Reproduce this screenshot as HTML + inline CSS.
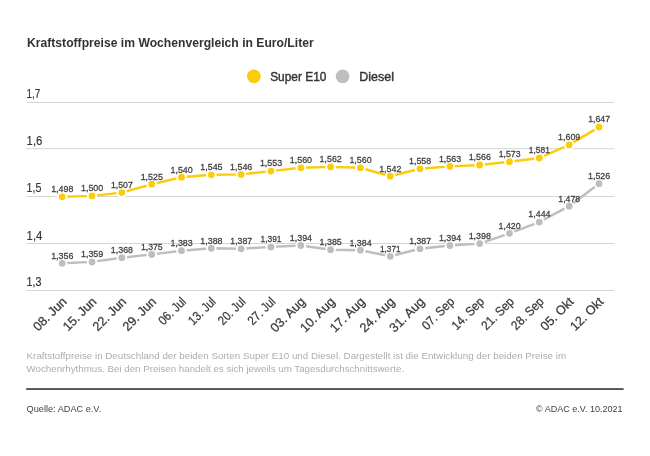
<!DOCTYPE html>
<html><head><meta charset="utf-8"><title>Kraftstoffpreise</title>
<style>html,body{margin:0;padding:0;background:#fff}body{width:650px;height:456px;overflow:hidden}svg{display:block;will-change:transform;transform:translateZ(0)}text{font-family:"Liberation Sans",sans-serif}</style></head><body>
<svg width="650" height="456" viewBox="0 0 650 456">
<rect width="650" height="456" fill="#fff"/>
<text x="27" y="47.2" font-size="12.2" font-weight="bold" fill="#333" textLength="286.7" lengthAdjust="spacingAndGlyphs">Kraftstoffpreise im Wochenvergleich in Euro/Liter</text>
<circle cx="253.9" cy="76.3" r="6.85" fill="#fccc0a"/>
<text x="270.2" y="81.3" font-size="12.6" fill="#333" stroke="#333" stroke-width="0.4" textLength="56.2" lengthAdjust="spacingAndGlyphs">Super E10</text>
<circle cx="342.6" cy="76.3" r="6.85" fill="#bebebe"/>
<text x="359.3" y="81.3" font-size="12.6" fill="#333" stroke="#333" stroke-width="0.4" textLength="34.7" lengthAdjust="spacingAndGlyphs">Diesel</text>
<line x1="26.5" x2="614.2" y1="102.5" y2="102.5" stroke="#d5d5d5" stroke-width="1"/>
<text x="26.6" y="98.1" font-size="12.3" fill="#333" stroke="#333" stroke-width="0.15" textLength="13.8" lengthAdjust="spacingAndGlyphs">1,7</text>
<line x1="26.5" x2="614.2" y1="148.7" y2="148.7" stroke="#d5d5d5" stroke-width="1"/>
<text x="26.6" y="144.8" font-size="12.3" fill="#333" stroke="#333" stroke-width="0.15" textLength="15.8" lengthAdjust="spacingAndGlyphs">1,6</text>
<line x1="26.5" x2="614.2" y1="196.5" y2="196.5" stroke="#d5d5d5" stroke-width="1"/>
<text x="26.6" y="192.1" font-size="12.3" fill="#333" stroke="#333" stroke-width="0.15" textLength="14.8" lengthAdjust="spacingAndGlyphs">1,5</text>
<line x1="26.5" x2="614.2" y1="243.5" y2="243.5" stroke="#d5d5d5" stroke-width="1"/>
<text x="26.6" y="239.6" font-size="12.3" fill="#333" stroke="#333" stroke-width="0.15" textLength="15.8" lengthAdjust="spacingAndGlyphs">1,4</text>
<line x1="26.5" x2="614.2" y1="290.5" y2="290.5" stroke="#d5d5d5" stroke-width="1"/>
<text x="26.6" y="286.1" font-size="12.3" fill="#333" stroke="#333" stroke-width="0.15" textLength="15.0" lengthAdjust="spacingAndGlyphs">1,3</text>
<polyline points="62.2,263.3 92.0,261.9 121.8,257.7 151.7,254.4 181.5,250.7 211.3,248.3 241.1,248.8 270.9,246.9 300.8,245.5 330.6,249.7 360.4,250.2 390.2,256.3 420.0,248.8 449.9,245.5 479.7,243.6 509.5,233.3 539.3,222.1 569.1,206.2 599.0,183.7" fill="none" stroke="#bebebe" stroke-width="2.45" stroke-linejoin="round" stroke-linecap="round"/>
<circle cx="62.2" cy="263.3" r="4.35" fill="#bebebe" stroke="#fff" stroke-width="1.9"/>
<circle cx="92.0" cy="261.9" r="4.35" fill="#bebebe" stroke="#fff" stroke-width="1.9"/>
<circle cx="121.8" cy="257.7" r="4.35" fill="#bebebe" stroke="#fff" stroke-width="1.9"/>
<circle cx="151.7" cy="254.4" r="4.35" fill="#bebebe" stroke="#fff" stroke-width="1.9"/>
<circle cx="181.5" cy="250.7" r="4.35" fill="#bebebe" stroke="#fff" stroke-width="1.9"/>
<circle cx="211.3" cy="248.3" r="4.35" fill="#bebebe" stroke="#fff" stroke-width="1.9"/>
<circle cx="241.1" cy="248.8" r="4.35" fill="#bebebe" stroke="#fff" stroke-width="1.9"/>
<circle cx="270.9" cy="246.9" r="4.35" fill="#bebebe" stroke="#fff" stroke-width="1.9"/>
<circle cx="300.8" cy="245.5" r="4.35" fill="#bebebe" stroke="#fff" stroke-width="1.9"/>
<circle cx="330.6" cy="249.7" r="4.35" fill="#bebebe" stroke="#fff" stroke-width="1.9"/>
<circle cx="360.4" cy="250.2" r="4.35" fill="#bebebe" stroke="#fff" stroke-width="1.9"/>
<circle cx="390.2" cy="256.3" r="4.35" fill="#bebebe" stroke="#fff" stroke-width="1.9"/>
<circle cx="420.0" cy="248.8" r="4.35" fill="#bebebe" stroke="#fff" stroke-width="1.9"/>
<circle cx="449.9" cy="245.5" r="4.35" fill="#bebebe" stroke="#fff" stroke-width="1.9"/>
<circle cx="479.7" cy="243.6" r="4.35" fill="#bebebe" stroke="#fff" stroke-width="1.9"/>
<circle cx="509.5" cy="233.3" r="4.35" fill="#bebebe" stroke="#fff" stroke-width="1.9"/>
<circle cx="539.3" cy="222.1" r="4.35" fill="#bebebe" stroke="#fff" stroke-width="1.9"/>
<circle cx="569.1" cy="206.2" r="4.35" fill="#bebebe" stroke="#fff" stroke-width="1.9"/>
<circle cx="599.0" cy="183.7" r="4.35" fill="#bebebe" stroke="#fff" stroke-width="1.9"/>
<polyline points="62.2,196.8 92.0,195.9 121.8,192.6 151.7,184.2 181.5,177.2 211.3,174.8 241.1,174.4 270.9,171.1 300.8,167.8 330.6,166.9 360.4,167.8 390.2,176.2 420.0,168.8 449.9,166.4 479.7,165.0 509.5,161.7 539.3,158.0 569.1,144.9 599.0,127.1" fill="none" stroke="#fccc0a" stroke-width="2.45" stroke-linejoin="round" stroke-linecap="round"/>
<circle cx="62.2" cy="196.8" r="4.35" fill="#fccc0a" stroke="#fff" stroke-width="1.9"/>
<circle cx="92.0" cy="195.9" r="4.35" fill="#fccc0a" stroke="#fff" stroke-width="1.9"/>
<circle cx="121.8" cy="192.6" r="4.35" fill="#fccc0a" stroke="#fff" stroke-width="1.9"/>
<circle cx="151.7" cy="184.2" r="4.35" fill="#fccc0a" stroke="#fff" stroke-width="1.9"/>
<circle cx="181.5" cy="177.2" r="4.35" fill="#fccc0a" stroke="#fff" stroke-width="1.9"/>
<circle cx="211.3" cy="174.8" r="4.35" fill="#fccc0a" stroke="#fff" stroke-width="1.9"/>
<circle cx="241.1" cy="174.4" r="4.35" fill="#fccc0a" stroke="#fff" stroke-width="1.9"/>
<circle cx="270.9" cy="171.1" r="4.35" fill="#fccc0a" stroke="#fff" stroke-width="1.9"/>
<circle cx="300.8" cy="167.8" r="4.35" fill="#fccc0a" stroke="#fff" stroke-width="1.9"/>
<circle cx="330.6" cy="166.9" r="4.35" fill="#fccc0a" stroke="#fff" stroke-width="1.9"/>
<circle cx="360.4" cy="167.8" r="4.35" fill="#fccc0a" stroke="#fff" stroke-width="1.9"/>
<circle cx="390.2" cy="176.2" r="4.35" fill="#fccc0a" stroke="#fff" stroke-width="1.9"/>
<circle cx="420.0" cy="168.8" r="4.35" fill="#fccc0a" stroke="#fff" stroke-width="1.9"/>
<circle cx="449.9" cy="166.4" r="4.35" fill="#fccc0a" stroke="#fff" stroke-width="1.9"/>
<circle cx="479.7" cy="165.0" r="4.35" fill="#fccc0a" stroke="#fff" stroke-width="1.9"/>
<circle cx="509.5" cy="161.7" r="4.35" fill="#fccc0a" stroke="#fff" stroke-width="1.9"/>
<circle cx="539.3" cy="158.0" r="4.35" fill="#fccc0a" stroke="#fff" stroke-width="1.9"/>
<circle cx="569.1" cy="144.9" r="4.35" fill="#fccc0a" stroke="#fff" stroke-width="1.9"/>
<circle cx="599.0" cy="127.1" r="4.35" fill="#fccc0a" stroke="#fff" stroke-width="1.9"/>
<text x="62.3" y="258.6" font-size="9.9" fill="#404040" stroke="#404040" stroke-width="0.28" text-anchor="middle" textLength="22.2" lengthAdjust="spacingAndGlyphs">1,356</text>
<text x="92.1" y="257.2" font-size="9.9" fill="#404040" stroke="#404040" stroke-width="0.28" text-anchor="middle" textLength="22.2" lengthAdjust="spacingAndGlyphs">1,359</text>
<text x="121.9" y="253.0" font-size="9.9" fill="#404040" stroke="#404040" stroke-width="0.28" text-anchor="middle" textLength="22.2" lengthAdjust="spacingAndGlyphs">1,368</text>
<text x="151.8" y="249.7" font-size="9.9" fill="#404040" stroke="#404040" stroke-width="0.28" text-anchor="middle" textLength="21.8" lengthAdjust="spacingAndGlyphs">1,375</text>
<text x="181.6" y="246.0" font-size="9.9" fill="#404040" stroke="#404040" stroke-width="0.28" text-anchor="middle" textLength="22.2" lengthAdjust="spacingAndGlyphs">1,383</text>
<text x="211.4" y="243.6" font-size="9.9" fill="#404040" stroke="#404040" stroke-width="0.28" text-anchor="middle" textLength="22.2" lengthAdjust="spacingAndGlyphs">1,388</text>
<text x="241.2" y="244.1" font-size="9.9" fill="#404040" stroke="#404040" stroke-width="0.28" text-anchor="middle" textLength="21.8" lengthAdjust="spacingAndGlyphs">1,387</text>
<text x="271.0" y="242.2" font-size="9.9" fill="#404040" stroke="#404040" stroke-width="0.28" text-anchor="middle" textLength="21.1" lengthAdjust="spacingAndGlyphs">1,391</text>
<text x="300.9" y="240.8" font-size="9.9" fill="#404040" stroke="#404040" stroke-width="0.28" text-anchor="middle" textLength="22.2" lengthAdjust="spacingAndGlyphs">1,394</text>
<text x="330.7" y="245.0" font-size="9.9" fill="#404040" stroke="#404040" stroke-width="0.28" text-anchor="middle" textLength="22.2" lengthAdjust="spacingAndGlyphs">1,385</text>
<text x="360.5" y="245.5" font-size="9.9" fill="#404040" stroke="#404040" stroke-width="0.28" text-anchor="middle" textLength="22.2" lengthAdjust="spacingAndGlyphs">1,384</text>
<text x="390.3" y="251.6" font-size="9.9" fill="#404040" stroke="#404040" stroke-width="0.28" text-anchor="middle" textLength="20.6" lengthAdjust="spacingAndGlyphs">1,371</text>
<text x="420.1" y="244.1" font-size="9.9" fill="#404040" stroke="#404040" stroke-width="0.28" text-anchor="middle" textLength="21.8" lengthAdjust="spacingAndGlyphs">1,387</text>
<text x="450.0" y="240.8" font-size="9.9" fill="#404040" stroke="#404040" stroke-width="0.28" text-anchor="middle" textLength="22.2" lengthAdjust="spacingAndGlyphs">1,394</text>
<text x="479.8" y="238.9" font-size="9.9" fill="#404040" stroke="#404040" stroke-width="0.28" text-anchor="middle" textLength="22.2" lengthAdjust="spacingAndGlyphs">1,398</text>
<text x="509.6" y="228.6" font-size="9.9" fill="#404040" stroke="#404040" stroke-width="0.28" text-anchor="middle" textLength="22.2" lengthAdjust="spacingAndGlyphs">1,420</text>
<text x="539.4" y="217.4" font-size="9.9" fill="#404040" stroke="#404040" stroke-width="0.28" text-anchor="middle" textLength="22.2" lengthAdjust="spacingAndGlyphs">1,444</text>
<text x="569.2" y="201.5" font-size="9.9" fill="#404040" stroke="#404040" stroke-width="0.28" text-anchor="middle" textLength="21.8" lengthAdjust="spacingAndGlyphs">1,478</text>
<text x="599.1" y="179.0" font-size="9.9" fill="#404040" stroke="#404040" stroke-width="0.28" text-anchor="middle" textLength="22.2" lengthAdjust="spacingAndGlyphs">1,526</text>
<text x="62.3" y="192.1" font-size="9.9" fill="#404040" stroke="#404040" stroke-width="0.28" text-anchor="middle" textLength="22.2" lengthAdjust="spacingAndGlyphs">1,498</text>
<text x="92.1" y="191.2" font-size="9.9" fill="#404040" stroke="#404040" stroke-width="0.28" text-anchor="middle" textLength="22.2" lengthAdjust="spacingAndGlyphs">1,500</text>
<text x="121.9" y="187.9" font-size="9.9" fill="#404040" stroke="#404040" stroke-width="0.28" text-anchor="middle" textLength="21.8" lengthAdjust="spacingAndGlyphs">1,507</text>
<text x="151.8" y="179.5" font-size="9.9" fill="#404040" stroke="#404040" stroke-width="0.28" text-anchor="middle" textLength="22.2" lengthAdjust="spacingAndGlyphs">1,525</text>
<text x="181.6" y="172.5" font-size="9.9" fill="#404040" stroke="#404040" stroke-width="0.28" text-anchor="middle" textLength="22.2" lengthAdjust="spacingAndGlyphs">1,540</text>
<text x="211.4" y="170.1" font-size="9.9" fill="#404040" stroke="#404040" stroke-width="0.28" text-anchor="middle" textLength="22.2" lengthAdjust="spacingAndGlyphs">1,545</text>
<text x="241.2" y="169.7" font-size="9.9" fill="#404040" stroke="#404040" stroke-width="0.28" text-anchor="middle" textLength="22.2" lengthAdjust="spacingAndGlyphs">1,546</text>
<text x="271.0" y="166.4" font-size="9.9" fill="#404040" stroke="#404040" stroke-width="0.28" text-anchor="middle" textLength="22.2" lengthAdjust="spacingAndGlyphs">1,553</text>
<text x="300.9" y="163.1" font-size="9.9" fill="#404040" stroke="#404040" stroke-width="0.28" text-anchor="middle" textLength="22.2" lengthAdjust="spacingAndGlyphs">1,560</text>
<text x="330.7" y="162.2" font-size="9.9" fill="#404040" stroke="#404040" stroke-width="0.28" text-anchor="middle" textLength="22.2" lengthAdjust="spacingAndGlyphs">1,562</text>
<text x="360.5" y="163.1" font-size="9.9" fill="#404040" stroke="#404040" stroke-width="0.28" text-anchor="middle" textLength="22.2" lengthAdjust="spacingAndGlyphs">1,560</text>
<text x="390.3" y="171.5" font-size="9.9" fill="#404040" stroke="#404040" stroke-width="0.28" text-anchor="middle" textLength="22.2" lengthAdjust="spacingAndGlyphs">1,542</text>
<text x="420.1" y="164.1" font-size="9.9" fill="#404040" stroke="#404040" stroke-width="0.28" text-anchor="middle" textLength="22.2" lengthAdjust="spacingAndGlyphs">1,558</text>
<text x="450.0" y="161.7" font-size="9.9" fill="#404040" stroke="#404040" stroke-width="0.28" text-anchor="middle" textLength="22.2" lengthAdjust="spacingAndGlyphs">1,563</text>
<text x="479.8" y="160.3" font-size="9.9" fill="#404040" stroke="#404040" stroke-width="0.28" text-anchor="middle" textLength="22.2" lengthAdjust="spacingAndGlyphs">1,566</text>
<text x="509.6" y="157.0" font-size="9.9" fill="#404040" stroke="#404040" stroke-width="0.28" text-anchor="middle" textLength="21.8" lengthAdjust="spacingAndGlyphs">1,573</text>
<text x="539.4" y="153.3" font-size="9.9" fill="#404040" stroke="#404040" stroke-width="0.28" text-anchor="middle" textLength="21.1" lengthAdjust="spacingAndGlyphs">1,581</text>
<text x="569.2" y="140.2" font-size="9.9" fill="#404040" stroke="#404040" stroke-width="0.28" text-anchor="middle" textLength="22.2" lengthAdjust="spacingAndGlyphs">1,609</text>
<text x="599.1" y="122.4" font-size="9.9" fill="#404040" stroke="#404040" stroke-width="0.28" text-anchor="middle" textLength="21.8" lengthAdjust="spacingAndGlyphs">1,647</text>
<text transform="translate(67.5,302.4) rotate(-45)" font-size="12.8" fill="#3a3a3a" stroke="#3a3a3a" stroke-width="0.25" text-anchor="end" textLength="41.5" lengthAdjust="spacingAndGlyphs">08. Jun</text>
<text transform="translate(97.3,302.4) rotate(-45)" font-size="12.8" fill="#3a3a3a" stroke="#3a3a3a" stroke-width="0.25" text-anchor="end" textLength="41.5" lengthAdjust="spacingAndGlyphs">15. Jun</text>
<text transform="translate(127.1,302.4) rotate(-45)" font-size="12.8" fill="#3a3a3a" stroke="#3a3a3a" stroke-width="0.25" text-anchor="end" textLength="41.5" lengthAdjust="spacingAndGlyphs">22. Jun</text>
<text transform="translate(157.0,302.4) rotate(-45)" font-size="12.8" fill="#3a3a3a" stroke="#3a3a3a" stroke-width="0.25" text-anchor="end" textLength="41.5" lengthAdjust="spacingAndGlyphs">29. Jun</text>
<text transform="translate(186.8,302.4) rotate(-45)" font-size="12.8" fill="#3a3a3a" stroke="#3a3a3a" stroke-width="0.25" text-anchor="end" textLength="33.0" lengthAdjust="spacingAndGlyphs">06. Jul</text>
<text transform="translate(216.6,302.4) rotate(-45)" font-size="12.8" fill="#3a3a3a" stroke="#3a3a3a" stroke-width="0.25" text-anchor="end" textLength="33.0" lengthAdjust="spacingAndGlyphs">13. Jul</text>
<text transform="translate(246.4,302.4) rotate(-45)" font-size="12.8" fill="#3a3a3a" stroke="#3a3a3a" stroke-width="0.25" text-anchor="end" textLength="33.0" lengthAdjust="spacingAndGlyphs">20. Jul</text>
<text transform="translate(276.2,302.4) rotate(-45)" font-size="12.8" fill="#3a3a3a" stroke="#3a3a3a" stroke-width="0.25" text-anchor="end" textLength="33.0" lengthAdjust="spacingAndGlyphs">27. Jul</text>
<text transform="translate(306.1,302.4) rotate(-45)" font-size="12.8" fill="#3a3a3a" stroke="#3a3a3a" stroke-width="0.25" text-anchor="end" textLength="43.4" lengthAdjust="spacingAndGlyphs">03. Aug</text>
<text transform="translate(335.9,302.4) rotate(-45)" font-size="12.8" fill="#3a3a3a" stroke="#3a3a3a" stroke-width="0.25" text-anchor="end" textLength="43.4" lengthAdjust="spacingAndGlyphs">10. Aug</text>
<text transform="translate(365.7,302.4) rotate(-45)" font-size="12.8" fill="#3a3a3a" stroke="#3a3a3a" stroke-width="0.25" text-anchor="end" textLength="43.4" lengthAdjust="spacingAndGlyphs">17. Aug</text>
<text transform="translate(395.5,302.4) rotate(-45)" font-size="12.8" fill="#3a3a3a" stroke="#3a3a3a" stroke-width="0.25" text-anchor="end" textLength="43.4" lengthAdjust="spacingAndGlyphs">24. Aug</text>
<text transform="translate(425.3,302.4) rotate(-45)" font-size="12.8" fill="#3a3a3a" stroke="#3a3a3a" stroke-width="0.25" text-anchor="end" textLength="43.4" lengthAdjust="spacingAndGlyphs">31. Aug</text>
<text transform="translate(455.2,302.4) rotate(-45)" font-size="12.8" fill="#3a3a3a" stroke="#3a3a3a" stroke-width="0.25" text-anchor="end" textLength="40.0" lengthAdjust="spacingAndGlyphs">07. Sep</text>
<text transform="translate(485.0,302.4) rotate(-45)" font-size="12.8" fill="#3a3a3a" stroke="#3a3a3a" stroke-width="0.25" text-anchor="end" textLength="40.0" lengthAdjust="spacingAndGlyphs">14. Sep</text>
<text transform="translate(514.8,302.4) rotate(-45)" font-size="12.8" fill="#3a3a3a" stroke="#3a3a3a" stroke-width="0.25" text-anchor="end" textLength="40.0" lengthAdjust="spacingAndGlyphs">21. Sep</text>
<text transform="translate(544.6,302.4) rotate(-45)" font-size="12.8" fill="#3a3a3a" stroke="#3a3a3a" stroke-width="0.25" text-anchor="end" textLength="40.0" lengthAdjust="spacingAndGlyphs">28. Sep</text>
<text transform="translate(574.4,302.4) rotate(-45)" font-size="12.8" fill="#3a3a3a" stroke="#3a3a3a" stroke-width="0.25" text-anchor="end" textLength="41.0" lengthAdjust="spacingAndGlyphs">05. Okt</text>
<text transform="translate(604.3,302.4) rotate(-45)" font-size="12.8" fill="#3a3a3a" stroke="#3a3a3a" stroke-width="0.25" text-anchor="end" textLength="41.0" lengthAdjust="spacingAndGlyphs">12. Okt</text>
<text x="26.6" y="359.4" font-size="8.8" fill="#adadad" textLength="539.5" lengthAdjust="spacingAndGlyphs">Kraftstoffpreise in Deutschland der beiden Sorten Super E10 und Diesel. Dargestellt ist die Entwicklung der beiden Preise im</text>
<text x="26.6" y="372.2" font-size="8.8" fill="#adadad" textLength="377.5" lengthAdjust="spacingAndGlyphs">Wochenrhythmus. Bei den Preisen handelt es sich jeweils um Tagesdurchschnittswerte.</text>
<rect x="26.2" y="388.15" width="597.4" height="1.8" fill="#4a4a4a"/>
<text x="26.6" y="411.8" font-size="8.9" fill="#444" textLength="74.6" lengthAdjust="spacingAndGlyphs">Quelle: ADAC e.V.</text>
<text x="536.1" y="411.8" font-size="8.9" fill="#444" textLength="86.3" lengthAdjust="spacingAndGlyphs">© ADAC e.V. 10.2021</text>
</svg></body></html>
